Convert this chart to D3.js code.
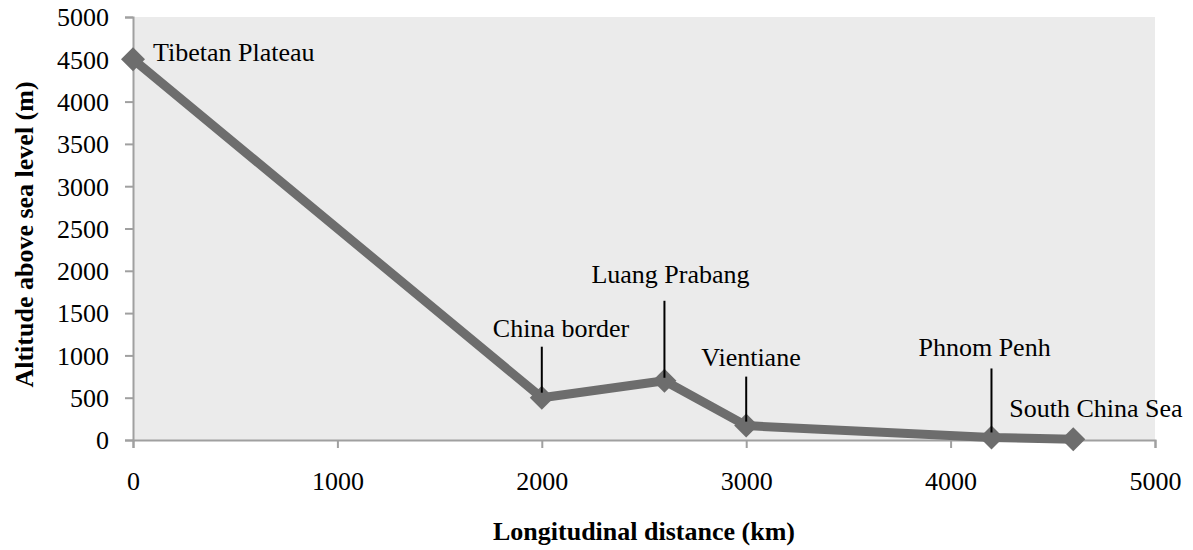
<!DOCTYPE html>
<html>
<head>
<meta charset="utf-8">
<script src="https://cdn.jsdelivr.net/npm/d3@7"></script>
<style>
  html, body { margin: 0; padding: 0; background: #ffffff; }
  svg { display: block; }
  text { font-family: "Liberation Serif", "Times New Roman", serif; fill: #000; }
</style>
</head>
<body>
<svg id="chart" width="1193" height="550"></svg>
<script>
// ---- data ----
const places    = ["Tibetan Plateau", "China border", "Luang Prabang", "Vientiane", "Phnom Penh", "South China Sea"];
const distances = [0, 2000, 2600, 3000, 4200, 4600];
const altitudes = [4500, 500, 700, 170, 30, 10];
const xTicks    = [0, 1000, 2000, 3000, 4000, 5000];
const yTicks    = [0, 500, 1000, 1500, 2000, 2500, 3000, 3500, 4000, 4500, 5000];
const xTitle    = "Longitudinal distance (km)";
const yTitle    = "Altitude above sea level (m)";

// ---- layout (label placement relative to the point, in px) ----
const labelLayout = [
  { dx: 20,   dy: 2,   leader: null },
  { dx: -49,  dy: -61, leader: [-51, -5] },
  { dx: -73,  dy: -98, leader: [-80, -3] },
  { dx: -45,  dy: -60, leader: [-49, -4] },
  { dx: -73,  dy: -81, leader: [-69, -5] },
  { dx: -64,  dy: -22, leader: null }
];

const W = 1193, H = 550;
const m = { left: 133, right: 1155, top: 17, bottom: 440 };
const svg = d3.select("#chart");

const x = d3.scaleLinear().domain([0, 5000]).range([m.left, m.right]);
const y = d3.scaleLinear().domain([0, 5000]).range([m.bottom, m.top]);

// plot background
svg.append("rect")
  .attr("x", m.left).attr("y", m.top)
  .attr("width", m.right - m.left).attr("height", m.bottom - m.top)
  .attr("fill", "#ebebeb");

const axisColor = "#a0a0a0";
const fontSize = 26;

// y axis
const yAxis = svg.append("g")
  .attr("transform", `translate(${m.left},0)`)
  .call(d3.axisLeft(y).tickValues(yTicks).tickSize(8).tickPadding(16).tickFormat(d3.format("d")));
yAxis.select(".domain").attr("stroke", axisColor).attr("stroke-width", 2);
yAxis.selectAll(".tick line").attr("stroke", axisColor).attr("stroke-width", 2);
yAxis.selectAll(".tick text")
  .attr("font-family", "Liberation Serif, serif")
  .attr("font-size", fontSize).attr("fill", "#000").attr("dy", "0.34em");

// x axis
const xAxis = svg.append("g")
  .attr("transform", `translate(0,${m.bottom})`)
  .call(d3.axisBottom(x).tickValues(xTicks).tickSize(8).tickPadding(24).tickFormat(d3.format("d")));
xAxis.select(".domain").attr("stroke", axisColor).attr("stroke-width", 2);
xAxis.selectAll(".tick line").attr("stroke", axisColor).attr("stroke-width", 2);
xAxis.selectAll(".tick text")
  .attr("font-family", "Liberation Serif, serif")
  .attr("font-size", fontSize).attr("fill", "#000");

// axis titles
svg.append("text")
  .attr("x", (m.left + m.right) / 2).attr("y", 540)
  .attr("text-anchor", "middle")
  .attr("font-size", fontSize).attr("font-weight", "bold")
  .text(xTitle);

svg.append("text")
  .attr("transform", `translate(33,${(m.top + m.bottom) / 2 + 6}) rotate(-90)`)
  .attr("text-anchor", "middle")
  .attr("font-size", fontSize).attr("font-weight", "bold")
  .text(yTitle);

// line
const pts = distances.map((d, i) => ({ d, a: altitudes[i], name: places[i], lay: labelLayout[i] }));
const line = d3.line().x(p => x(p.d)).y(p => y(p.a));
svg.append("path")
  .datum(pts)
  .attr("d", line)
  .attr("fill", "none")
  .attr("stroke", "#6d6d6d")
  .attr("stroke-width", 9)
  .attr("stroke-linejoin", "round");

// diamond markers
const r = 12;
svg.append("g").selectAll("path")
  .data(pts).join("path")
  .attr("d", p => `M${x(p.d)},${y(p.a) - r}L${x(p.d) + r},${y(p.a)}L${x(p.d)},${y(p.a) + r}L${x(p.d) - r},${y(p.a)}Z`)
  .attr("fill", "#6d6d6d");

// leader lines
svg.append("g").selectAll("line")
  .data(pts.filter(p => p.lay.leader)).join("line")
  .attr("x1", p => x(p.d)).attr("x2", p => x(p.d))
  .attr("y1", p => y(p.a) + p.lay.leader[0])
  .attr("y2", p => y(p.a) + p.lay.leader[1])
  .attr("stroke", "#000").attr("stroke-width", 2);

// labels
svg.append("g").selectAll("text")
  .data(pts).join("text")
  .attr("x", p => x(p.d) + p.lay.dx)
  .attr("y", p => y(p.a) + p.lay.dy)
  .attr("font-size", fontSize)
  .text(p => p.name);
</script>
</body>
</html>
